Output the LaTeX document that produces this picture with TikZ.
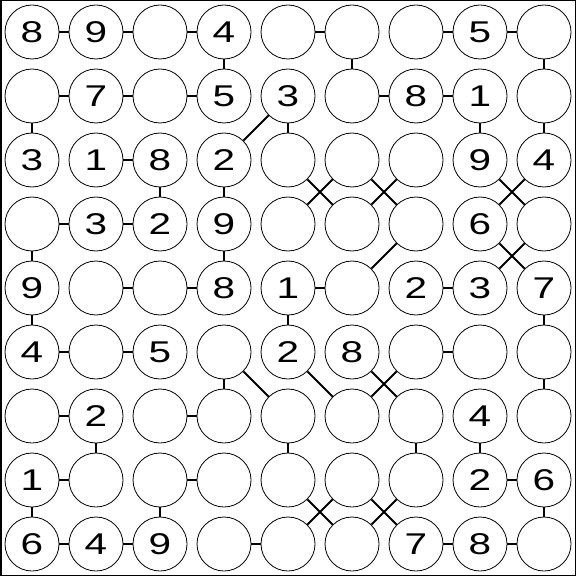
\documentclass[tikz,border=0pt]{standalone}
\usepackage{fontspec}
\setmainfont{Liberation Sans}
\newfontfamily\digitfont[FakeStretch=1.35]{Liberation Sans}
\tikzset{
  cell/.style={circle,draw,line width=0.8pt,minimum size=54pt,inner sep=0pt,font=\digitfont\fontsize{30}{30}\selectfont},
  link/.style={line width=2pt},
  frame/.style={line width=1.5pt}
}
\begin{document}
\begin{tikzpicture}[x=1pt,y=1pt]
\useasboundingbox (0,0) rectangle (577,-577);
\draw[frame] (0.75,-0.75) rectangle (575.5,-575.5);
\foreach \row [count=\r from 0] in {
  {8,9,0,4,0,0,0,5,0},
  {0,7,0,5,3,0,8,1,0},
  {3,1,8,2,0,0,0,9,4},
  {0,3,2,9,0,0,0,6,0},
  {9,0,0,8,1,0,2,3,7},
  {4,0,5,0,2,8,0,0,0},
  {0,2,0,0,0,0,0,4,0},
  {1,0,0,0,0,0,0,2,6},
  {6,4,9,0,0,0,7,8,0}}{
  \foreach \v [count=\c from 0] in \row {
    \node[cell] (n-\r-\c) at ({32+64*\c},{-32-64*\r}) {\ifnum\v=0 \else\v\fi};
  }
}
% horizontal links (r,c)-(r,c+1)
\foreach \r/\c in {0/0,0/1,0/2,0/4,0/6,0/7,1/0,1/1,1/2,1/5,1/6,2/1,3/0,3/1,4/1,4/2,4/4,4/6,5/0,5/1,5/6,6/0,6/2,7/0,7/2,7/7,8/0,8/1,8/3,8/6,8/7}{
  \pgfmathtruncatemacro{\cc}{\c+1}
  \draw[link] (n-\r-\c) -- (n-\r-\cc);
}
% vertical links (r,c)-(r+1,c)
\foreach \r/\c in {0/3,0/5,0/8,1/0,1/4,1/7,1/8,2/2,2/3,3/0,3/3,4/0,4/4,4/8,5/3,5/8,6/1,6/4,6/6,6/7,7/0,7/2,7/8}{
  \pgfmathtruncatemacro{\rr}{\r+1}
  \draw[link] (n-\r-\c) -- (n-\rr-\c);
}
% diagonal links
\foreach \a/\b/\c/\d in {1/4/2/3,2/4/3/5,3/4/2/5,2/5/3/6,3/5/2/6,2/7/3/8,3/7/2/8,3/6/4/5,3/7/4/8,4/7/3/8,5/3/6/4,5/4/6/5,5/5/6/6,6/5/5/6,7/4/8/5,8/4/7/5,7/5/8/6,8/5/7/6}{
  \draw[link] (n-\a-\b) -- (n-\c-\d);
}
\end{tikzpicture}
\end{document}
